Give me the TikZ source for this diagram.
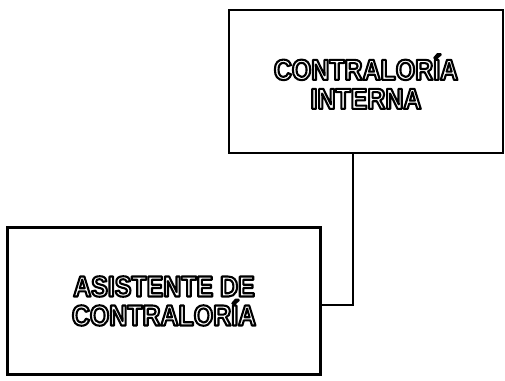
\documentclass[tikz,border=0pt]{standalone}
\usepackage{xcolor}
\usepackage{fontspec}
\setmainfont{Liberation Sans}[FakeStretch=0.86]
\usepackage{tikz}
\usetikzlibrary{positioning}

% white letters with a black outline
\newcommand{\boxtext}[1]{{\color{white}\special{pdf:literal direct 2 Tr 2.1 w 0 G 1 j}#1\special{pdf:literal direct 0 Tr}}}

\begin{document}
\begin{tikzpicture}[x=1pt, y=1pt, every node/.style={font=\bfseries\fontsize{29}{29}\selectfont}]
    % Styles
    \tikzset{office/.style={rectangle, draw=black, line width=2.6pt, fill=white, align=center}}
    \useasboundingbox (0,0) rectangle (505,-380);

    % Boxes
    \node[office, minimum width=274pt, minimum height=143pt] (contraloria) at (366,-81.5)
        {\boxtext{CONTRALORÍA}\\\boxtext{INTERNA}};
    \node[office, minimum width=313pt, minimum height=147pt] (asistente) at (164,-301)
        {\boxtext{ASISTENTE DE}\\\boxtext{CONTRALORÍA}};

    % Line
    \draw[line width=1.3pt] ([yshift=-4pt]asistente.east) -| ([xshift=-13pt]contraloria.south);
\end{tikzpicture}
\end{document}
